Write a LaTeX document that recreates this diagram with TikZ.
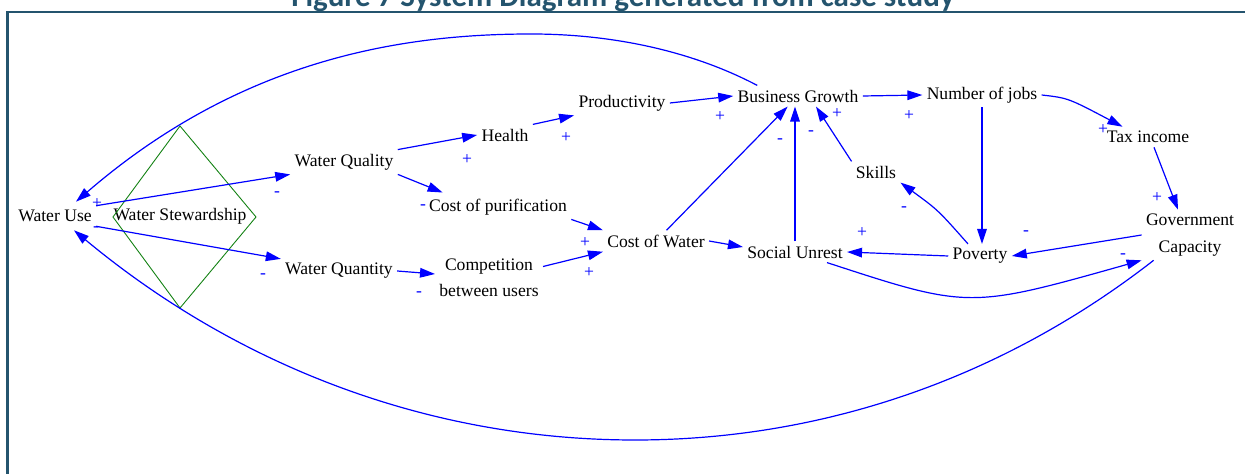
\documentclass[tikz,border=0pt]{standalone}
\usepackage{fontspec}
\setmainfont{Liberation Serif}
\newfontfamily\captionfont{Carlito}
\usepackage{tikz}
\usetikzlibrary{calc,arrows.meta}
\definecolor{framecol}{RGB}{36,84,110}
\definecolor{stewgreen}{RGB}{20,130,20}

\begin{document}
\begin{tikzpicture}[x=0.5pt,y=-0.5pt,
	var/.style={inner sep=2pt,align=center,font=\fontsize{8.8}{13.2}\selectfont},
	sign/.style={inner sep=0pt,text=blue,font=\fontsize{8.8}{10}\selectfont},
	link/.style={draw=blue,line width=0.6pt,-{Triangle[length=7.5pt,width=4.8pt]}}]
					%\draw[help lines] (0,0) grid[step=50] (1245,474);
					\useasboundingbox (0,0) rectangle (1245,474);
					\clip (0,0) rectangle (1245,474);
					%FRAME
					\node[anchor=base,text=framecol,font=\captionfont\bfseries\fontsize{15.5}{18}\selectfont] (title) at (623,6.5) {Figure 7 System Diagram generated from case study};
					\draw[framecol,line width=1.4pt] (7.5,12) -- (1245,12);
					\draw[framecol,line width=1.5pt] (7.5,11.3) -- (7.5,474);
					%VARIABLES
					\node[var] (wuse) at (55,216) {Water Use};
					\node[var] (stew) at (180,216) {Water Stewardship};
					\node[var] (wqual) at (344,162) {Water Quality};
					\node[var] (wquant) at (339,271) {Water Quantity};
					\node[var] (health) at (505,135) {Health};
					\node[var] (prod) at (622,103) {Productivity};
					\node[var] (purif) at (498,207) {Cost of purification};
					\node[var] (compet) at (489,278) {Competition\\between users};
					\node[var] (cost) at (656,241) {Cost of Water};
					\node[var] (bgrowth) at (798,96) {Business Growth};
					\node[var] (jobs) at (982,95) {Number of jobs};
					\node[var] (tax) at (1148,137) {Tax income};
					\node[var] (skills) at (876,172) {Skills};
					\node[var] (govt) at (1190,235) {Government\\Capacity};
					\node[var] (unrest) at (795,252) {Social Unrest};
					\node[var] (poverty) at (980,256) {Poverty};
					%STEWARDSHIP DIAMOND
					\draw[stewgreen,line width=0.45pt] (180,126) -- (256,217) -- (180,308) -- (113,217) -- cycle;
					%LINKS
					\draw[link] (wuse.north east) -- (wqual.south west);
					\draw[link] (wuse.south east) -- (wquant.north west);
					\draw[link] (wqual.north east) -- (health.west);
					\draw[link] (wqual.south east) -- ($(purif.north west)+(18,-2)$);
					\draw[link] (health.north east) -- (prod.south west);
					\draw[link] (prod.east) -- (bgrowth.west);
					\draw[link] (purif.south east) -- (cost.north west);
					\draw[link] (wquant.east) -- ($(compet.west)+(0,-4)$);
					\draw[link] (compet.12) -- (cost.south west);
					\draw[link] (cost) -- (bgrowth);
					\draw[link] (cost.east) -- ($(unrest.west)+(0,-5)$);
					\draw[link] (unrest.north) -- (unrest.north |- bgrowth.south);
					\draw[link] (skills.north west) -- ($(bgrowth.south)+(18,0)$);
					\draw[link] (bgrowth.east) -- (jobs.west);
					\draw[link] (jobs.east) .. controls (1068,98) .. ($(tax.north west)+(20,0)$);
					\draw[link] (jobs.south) -- (jobs.south |- poverty.north);
					\draw[link] ($(tax.south)+(6,0)$) -- ($(govt.north)+(-12,0)$);
					\draw[link] (govt.west) -- (poverty.east);
					\draw[link] (poverty.west) -- (unrest.east);
					\draw[link] ($(poverty.north)+(-12,0)$) .. controls (938,210) .. (skills.south east);
					\draw[link] ($(unrest.south)+(32,0)$) .. controls (969,309) .. (govt.south west);
					%LONG LOOPS
					\draw[link] ($(bgrowth.north west)+(24,0)$) .. controls (690,50) and (610,34) .. (531,34)
						.. controls (400,34) and (240,60) .. ($(wuse.north)+(21,-4)$);
					\draw[link] ($(govt.south west)+(12,0)$) .. controls (1000,380) and (820,440) .. (635,440)
						.. controls (420,440) and (230,360) .. ($(wuse.south)+(19,4)$);
					%POLARITIES
					\node[sign] (p1) at (97,204) {+};
					\node[sign] (p2) at (96,229) {-};
					\node[sign] (p3) at (277,194) {-};
					\node[sign] (p4) at (263,276) {-};
					\node[sign] (p5) at (467,160) {+};
					\node[sign] (p6) at (423,207) {-};
					\node[sign] (p7) at (566,138) {+};
					\node[sign] (p8) at (720,117) {+};
					\node[sign] (p9) at (585,243) {+};
					\node[sign] (p10) at (589,273) {+};
					\node[sign] (p11) at (419,294) {-};
					\node[sign] (p12) at (780,141) {-};
					\node[sign] (p13) at (811,133) {-};
					\node[sign] (p14) at (837,114) {+};
					\node[sign] (p15) at (909,116) {+};
					\node[sign] (p16) at (1103,130) {+};
					\node[sign] (p17) at (1157,198) {+};
					\node[sign] (p18) at (904,209) {-};
					\node[sign] (p19) at (862,233) {+};
					\node[sign] (p20) at (1026,233) {-};
					\node[sign] (p21) at (1123,256) {-};
	  \end{tikzpicture}
\end{document}
